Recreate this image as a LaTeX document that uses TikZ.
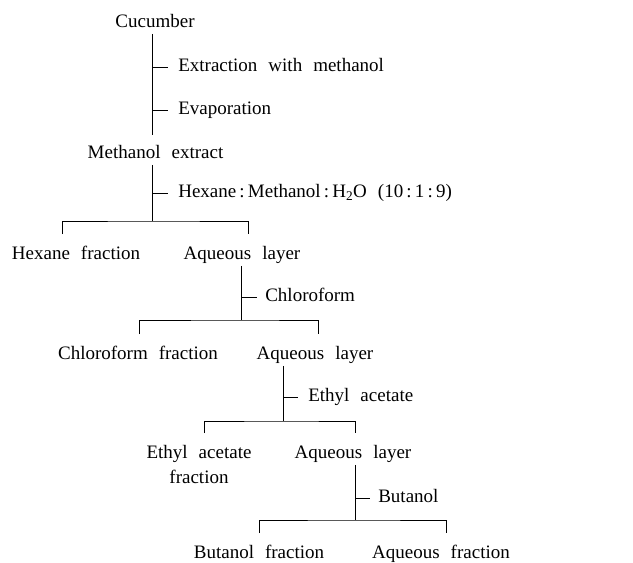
\documentclass[tikz,border=0pt]{standalone}
\usepackage{fontspec}
\setmainfont{Liberation Serif}
\newcommand\widesp{\spaceskip 0.58em\relax}
\tikzset{
  txt/.style={inner sep=2pt, font={\fontsize{19}{25}\selectfont\widesp}},
  one/.style={txt, text height=13.3pt, text depth=3.8pt},
  lbl/.style={one, anchor=west},
  ln/.style={line width=.6pt}
}

\begin{document}
\begin{tikzpicture}[x=1pt, y=-1pt, ln]
    \useasboundingbox (0, 0) rectangle (633, 563);
    % products
    \node[one] (cuc) at (155, 23) {Cucumber};
    \node[one] (meth) at (155.5, 154) {Methanol extract};
    \node[one] (hexf) at (76, 255) {Hexane fraction};
    \node[one] (aq1) at (242, 255) {Aqueous layer};
    \node[one] (chlf) at (138, 355) {Chloroform fraction};
    \node[one] (aq2) at (315, 355) {Aqueous layer};
    \node[txt, align=center] (etaf) at (199, 464.6) {Ethyl acetate\\fraction};
    \node[one] (aq3) at (353, 454) {Aqueous layer};
    \node[one] (butf) at (259, 554) {Butanol fraction};
    \node[one] (aqf) at (441, 554) {Aqueous fraction};
    % steps
    \node[lbl] (ext) at (176, 67) {Extraction with methanol};
    \node[lbl] (evap) at (176, 110) {Evaporation};
    \node[lbl] (hmw) at (176, 193) {Hexane\,:\,Methanol\,:\,H\textsubscript{2}O (10\,:\,1\,:\,9)};
    \node[lbl] (chl) at (263, 297) {Chloroform};
    \node[lbl] (eta) at (306, 397) {Ethyl acetate};
    \node[lbl] (but) at (376, 498) {Butanol};
    % junctions
    \coordinate (j1) at (152, 221);
    \coordinate (j2) at (241, 320);
    \coordinate (j3) at (283, 421);
    \coordinate (j4) at (355, 520);

    \draw[shorten >=8.5pt] (cuc.south -| j1) -- (meth.north -| j1);
    \draw (ext.west -| j1) -- ([xshift=-8pt]ext.west);
    \draw (evap.west -| j1) -- ([xshift=-8pt]evap.west);

    \draw (meth.south -| j1) -- (j1);
    \draw (hmw.west -| j1) -- ([xshift=-8pt]hmw.west);
    \draw ([xshift=-14pt, yshift=10pt]hexf.north) |- (j1) -| ([xshift=6pt, yshift=10pt]aq1.north);

    \draw (aq1.south -| j2) -- (j2);
    \draw (chl.west -| j2) -- ([xshift=-6pt]chl.west);
    \draw ([xshift=1pt, yshift=10pt]chlf.north) |- (j2) -| ([xshift=3pt, yshift=10pt]aq2.north);

    \draw (aq2.south -| j3) -- (j3);
    \draw (eta.west -| j3) -- ([xshift=-8pt]eta.west);
    \draw ([xshift=5pt, yshift=10pt]etaf.north) |- (j3) -| ([xshift=2pt, yshift=10pt]aq3.north);

    \draw (aq3.south -| j4) -- (j4);
    \draw (but.west -| j4) -- ([xshift=-6pt]but.west);
    \draw ([yshift=10pt]butf.north) |- (j4) -| ([xshift=5pt, yshift=10pt]aqf.north);
\end{tikzpicture}
\end{document}
